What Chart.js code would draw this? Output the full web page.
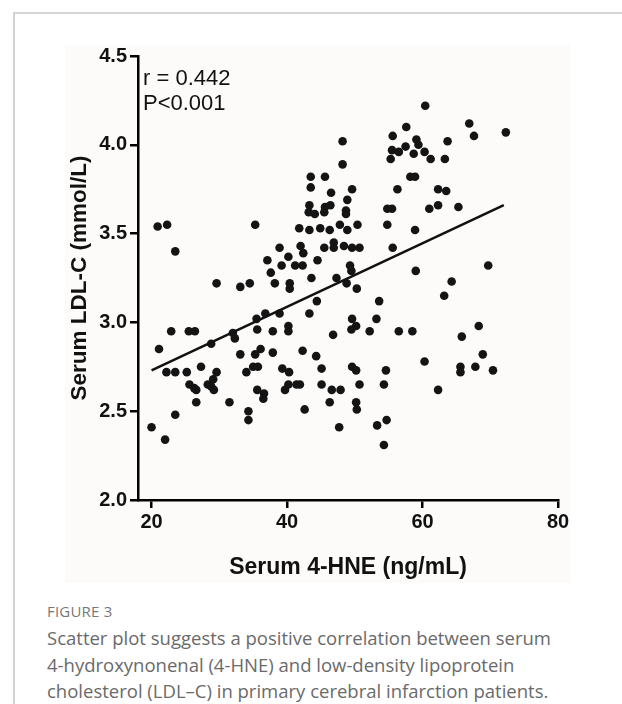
<!DOCTYPE html>
<html>
<head>
<meta charset="utf-8">
<script src="https://cdn.jsdelivr.net/npm/chart.js@4"></script>
<style>
  body { margin: 0; background: #fff; width: 622px; height: 704px; overflow: hidden; position: relative; font-family: "Open Sans", sans-serif; }
  .card { position: absolute; left: 13px; top: 12px; right: -4px; bottom: -4px; border-top: 2px solid #d4d4d4; border-left: 2px solid #d4d4d4; }
  .inset { position: absolute; left: 65px; top: 45px; width: 505px; height: 538px; background: #fcfbf9; }
  #wrap { position: absolute; left: 0; top: 0; }
  .fig { position: absolute; left: 47px; top: 601px; font-size: 15px; line-height: 20px; color: #777; letter-spacing: 0.2px; }
  .cap { position: absolute; left: 47px; top: 625px; font-size: 18.5px; line-height: 26.5px; color: #6a6a6a; white-space: nowrap; }
</style>
</head>
<body>
<div class="card"></div>
<div class="inset"></div>
<div id="wrap"><canvas id="scatterChart" width="622" height="595"></canvas></div>
<div class="fig">FIGURE 3</div>
<div class="cap">Scatter plot suggests a positive correlation between serum<br>4-hydroxynonenal (4-HNE) and low-density lipoprotein<br>cholesterol (LDL–C) in primary cerebral infarction patients.</div>
<script>
// serum 4-HNE (ng/mL)
const hne = [
  20.9, 22.3, 35.3, 23.5, 29.6, 33.1, 34.5, 37.1, 37.6,
  48.2, 48.2, 55.6, 55.5, 56.5, 55.3, 43.5, 45.6, 43.5, 46.5, 49.6, 48.9, 56.3,
  43.3, 43.2, 44.1, 45.6, 46.4, 45.5, 48.7, 48.7, 54.8, 55.5, 54.8,
  41.8, 43.3, 44.9, 46.3, 47.8, 48.9, 50.4, 38.9, 42.0, 42.4, 45.5, 46.9, 46.9,
  48.4, 49.6, 50.7, 55.6, 40.2, 39.2, 41.2, 42.3, 44.5, 49.3, 49.5, 38.2, 40.4,
  40.4, 43.6, 47.3, 48.8, 50.3,
  44.4, 38.9, 43.3, 53.6, 53.2, 49.6, 50.2, 49.5, 52.2, 56.5, 58.5, 46.8, 37.9,
  40.2, 40.2, 37.9, 42.3, 44.3, 39.3, 40.3, 45.1, 49.6, 50.2, 54.6, 40.2, 41.4,
  41.9, 39.7, 45.1, 46.6, 47.9, 50.7, 54.3, 46.3, 50.2, 50.3, 42.6, 47.7, 53.3,
  54.7, 54.3,
  60.4, 66.9, 67.6, 72.3, 57.5, 59.1, 58.7, 60.3, 61.2, 63.3, 63.7, 58.2, 58.9,
  62.3, 63.5, 62.3, 61.0, 65.3, 58.9, 59.0, 64.3, 69.7, 63.2, 68.3, 65.8, 60.3,
  68.9, 65.6, 65.6, 67.8, 70.4, 62.3, 57.6, 59.4,
  35.5, 36.8, 35.6, 22.9, 25.5, 26.4, 21.1, 28.8, 32.0, 32.3, 33.1, 35.3, 36.1,
  22.2, 23.5, 25.2, 27.3, 29.6, 29.1, 34.0, 35.0, 35.7, 25.6, 26.3, 26.6, 28.3,
  28.8, 29.2, 35.6, 36.6, 36.5, 26.6, 31.5, 34.3, 34.3, 23.5, 20.0, 22.0
];
// serum LDL-C (mmol/L), same order
const ldl = [
  3.54, 3.55, 3.55, 3.40, 3.22, 3.20, 3.22, 3.35, 3.28,
  4.02, 3.89, 4.05, 3.97, 3.96, 3.92, 3.82, 3.82, 3.76, 3.73, 3.75, 3.69, 3.75,
  3.66, 3.62, 3.61, 3.65, 3.66, 3.62, 3.63, 3.61, 3.64, 3.64, 3.55,
  3.53, 3.52, 3.53, 3.52, 3.55, 3.52, 3.55, 3.42, 3.43, 3.39, 3.42, 3.45, 3.42,
  3.43, 3.42, 3.42, 3.42, 3.37, 3.32, 3.32, 3.32, 3.35, 3.32, 3.29, 3.22, 3.22,
  3.19, 3.25, 3.25, 3.22, 3.19,
  3.12, 3.05, 3.05, 3.12, 3.02, 3.02, 2.98, 2.96, 2.95, 2.95, 2.95, 2.93, 2.95,
  2.98, 2.95, 2.83, 2.84, 2.81, 2.74, 2.72, 2.74, 2.75, 2.73, 2.73, 2.65, 2.65,
  2.65, 2.62, 2.65, 2.62, 2.62, 2.65, 2.65, 2.55, 2.55, 2.51, 2.51, 2.41, 2.42,
  2.45, 2.31,
  4.22, 4.12, 4.05, 4.07, 3.99, 4.03, 3.95, 3.96, 3.92, 3.92, 4.02, 3.82, 3.82,
  3.75, 3.74, 3.66, 3.64, 3.65, 3.52, 3.29, 3.23, 3.32, 3.15, 2.98, 2.92, 2.78,
  2.82, 2.75, 2.72, 2.75, 2.73, 2.62, 4.10, 4.00,
  3.02, 3.05, 2.96, 2.95, 2.95, 2.95, 2.85, 2.88, 2.94, 2.91, 2.82, 2.82, 2.85,
  2.72, 2.72, 2.72, 2.75, 2.72, 2.68, 2.72, 2.75, 2.75, 2.65, 2.63, 2.62, 2.65,
  2.64, 2.62, 2.62, 2.60, 2.57, 2.55, 2.55, 2.50, 2.45, 2.48, 2.41, 2.34
];
// regression line end points
const fitX = [20, 72];
const fitY = [2.73, 3.66];

const xTicks = [20, 40, 60, 80];
const statLines = ["r = 0.442", "P<0.001"];

const axisFont = "Liberation Sans";

const statText = {
  id: "statText",
  afterDraw(chart) {
    const c = chart.ctx;
    c.save();
    c.font = "22px 'Liberation Sans'";
    c.fillStyle = "#111";
    c.textBaseline = "alphabetic";
    statLines.forEach((t, i) => c.fillText(t, 143, 85 + i * 25));
    c.restore();
  }
};

const ctx = document.getElementById("scatterChart").getContext("2d");
const scatterChart = new Chart(ctx, {
  type: "scatter",
  data: {
    datasets: [
      {
        label: "patients",
        data: hne.map((x, i) => ({ x: x, y: ldl[i] })),
        backgroundColor: "#141414",
        borderWidth: 0,
        pointRadius: 4.3,
        order: 2
      },
      {
        type: "line",
        label: "fit",
        data: fitX.map((x, i) => ({ x: x, y: fitY[i] })),
        borderColor: "#111",
        borderWidth: 2.5,
        pointRadius: 0,
        fill: false,
        order: 1
      }
    ]
  },
  options: {
    responsive: false,
    animation: false,
    devicePixelRatio: 1,
    layout: { padding: { left: 0, top: 56, right: 64, bottom: 0 } },
    plugins: { legend: { display: false }, tooltip: { enabled: false } },
    scales: {
      x: {
        type: "linear",
        min: 18,
        max: 80,
        afterBuildTicks: s => { s.ticks = xTicks.map(v => ({ value: v })); },
        afterFit: s => { s.height = 95; },
        border: { color: "#000", width: 2.5 },
        grid: { drawOnChartArea: false, drawTicks: true, tickLength: 8, color: "#000", lineWidth: 2.5 },
        ticks: { color: "#111", padding: 2, maxRotation: 0, font: { family: axisFont, size: 20, weight: "bold" } },
        title: {
          display: true,
          text: "Serum 4-HNE (ng/mL)",
          color: "#111",
          font: { family: axisFont, size: 23, weight: "bold" },
          padding: { top: 0, bottom: 14 }
        }
      },
      y: {
        min: 2,
        max: 4.5,
        afterFit: s => { s.width = 138; },
        border: { color: "#000", width: 2.5 },
        grid: { drawOnChartArea: false, drawTicks: true, tickLength: 8, color: "#000", lineWidth: 2.5 },
        ticks: {
          stepSize: 0.5,
          color: "#111",
          padding: 3,
          font: { family: axisFont, size: 20, weight: "bold" },
          callback: v => v.toFixed(1)
        },
        title: {
          display: true,
          text: "Serum LDL-C (mmol/L)",
          color: "#111",
          font: { family: axisFont, size: 22.5, weight: "bold" },
          padding: { top: 66, bottom: 0 }
        }
      }
    }
  },
  plugins: [statText]
});
</script>
</body>
</html>
